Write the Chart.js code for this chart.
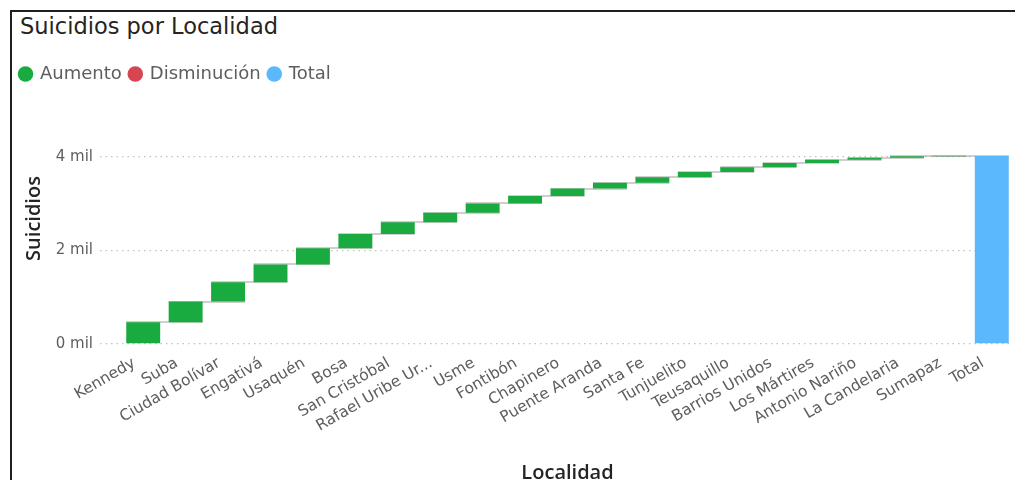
<!DOCTYPE html>
<html>
<head>
<meta charset="utf-8">
<script src="https://cdn.jsdelivr.net/npm/chart.js@4"></script>
<style>
  html, body { margin: 0; padding: 0; background: #fff; }
  #wrap { position: relative; width: 1015px; height: 480px; overflow: hidden; }
  #frame { position: absolute; left: 10px; top: 10px; width: 1010px; height: 480px;
           border-top: 2px solid #1e1e1e; border-left: 2px solid #1e1e1e; }
  #title { position: absolute; left: 20px; top: 13px; font-family: 'DejaVu Sans', sans-serif;
           font-size: 22.5px; color: #252423; white-space: nowrap; }
  canvas { position: absolute; left: 0; top: 0; }
</style>
</head>
<body>
<div id="wrap">
  <div id="frame"></div>
  <div id="title">Suicidios por Localidad</div>
  <canvas id="chart" width="1015" height="480"></canvas>
</div>
<script>
// Localidades, ordenadas como en el gráfico
var localidades = ['Kennedy', 'Suba', 'Ciudad Bolívar', 'Engativá', 'Usaquén', 'Bosa',
  'San Cristóbal', 'Rafael Uribe Uribe', 'Usme', 'Fontibón', 'Chapinero', 'Puente Aranda',
  'Santa Fe', 'Tunjuelito', 'Teusaquillo', 'Barrios Unidos', 'Los Mártires',
  'Antonio Nariño', 'La Candelaria', 'Sumapaz'];
// suicidios por localidad (aumento de cada escalón)
var suicidios = [463, 446, 412, 382, 346, 303, 255, 203, 198, 160, 158, 125,
  117, 112, 100, 90, 72, 45, 28, 6];
var totalLabel = 'Total';
var yTicks = [0, 2000, 4000];
var yTickLabels = ['0 mil', '2 mil', '4 mil'];

var clr_up = '#1AAB40';
var clr_down = '#D64550';
var clr_total = '#5BB8FD';
var clr_text = '#605E5C';
var font_fam = "'DejaVu Sans', sans-serif";
var font_title = "'Open Sans', sans-serif";

var labels = localidades.concat([totalLabel]);
var cum = [];
var run = 0;
var aumento = [];
for (let i = 0; i < suicidios.length; i++) {
  aumento.push([run, run + suicidios[i]]);
  run += suicidios[i];
  cum.push(run);
}
aumento.push(null);
var total = localidades.map(function() { return null; });
total.push([0, run]);
var disminucion = labels.map(function() { return null; });

// lineas de conexion entre escalones
var connectors = {
  id: 'connectors',
  beforeDatasetsDraw: function(chart) {
    var ctx = chart.ctx;
    var y = chart.scales.y;
    var bars = chart.getDatasetMeta(0).data;
    var tot = chart.getDatasetMeta(2).data;
    ctx.save();
    ctx.strokeStyle = '#A19F9D';
    ctx.lineWidth = 1;
    for (let i = 0; i < cum.length; i++) {
      var b = bars[i];
      var nb = (i + 1 < cum.length) ? bars[i + 1] : tot[cum.length];
      var py = Math.round(y.getPixelForValue(cum[i]));
      ctx.beginPath();
      ctx.moveTo(b.x - b.width / 2, py);
      ctx.lineTo(nb.x + nb.width / 2, py);
      ctx.stroke();
    }
    ctx.restore();
  }
};

var ctx = document.getElementById('chart').getContext('2d');
window.myChart = new Chart(ctx, {
  type: 'bar',
  data: {
    labels: labels,
    datasets: [
      { label: 'Aumento', data: aumento, backgroundColor: clr_up },
      { label: 'Disminución', data: disminucion, backgroundColor: clr_down },
      { label: 'Total', data: total, backgroundColor: clr_total }
    ]
  },
  options: {
    responsive: false,
    animation: false,
    layout: { padding: { left: 12, top: 57, right: 2, bottom: -5 } },
    datasets: {
      bar: { grouped: false, categoryPercentage: 1, barPercentage: 0.8, borderWidth: 0 }
    },
    scales: {
      x: {
        grid: { display: false },
        border: { display: false },
        ticks: {
          autoSkip: false,
          minRotation: 30,
          maxRotation: 30,
          color: clr_text,
          font: { family: font_fam, size: 15.5 },
          padding: 2,
          labelOffset: -9,
          callback: function(v) {
            var s = this.getLabelForValue(v);
            return s.length > 15 ? s.slice(0, 15) + '...' : s;
          }
        },
        title: {
          display: true,
          text: 'Localidad',
          color: '#252423',
          font: { family: font_title, size: 20, weight: '600' },
          padding: { top: 0, bottom: 0 }
        },
        afterFit: function(axis) { axis.height = 141; }
      },
      y: {
        min: 0,
        max: 5370,
        afterBuildTicks: function(axis) {
          axis.ticks = yTicks.map(function(v) { return { value: v }; });
        },
        grid: {
          color: '#C4C2C0',
          lineWidth: 1.3,
          tickBorderDash: [1.5, 4],
          tickColor: '#C4C2C0',
          tickLength: 22
        },
        border: { display: false, dash: [1.5, 4] },
        ticks: {
          color: clr_text,
          font: { family: font_fam, size: 15 },
          padding: 7,
          callback: function(v) { return yTickLabels[yTicks.indexOf(v)]; }
        },
        title: {
          display: true,
          text: 'Suicidios',
          color: '#252423',
          font: { family: font_title, size: 20, weight: '600' },
          padding: { top: 10, bottom: 0 }
        },
        afterFit: function(axis) { axis.width = 110; }
      }
    },
    plugins: {
      title: { display: false },
      tooltip: { enabled: false },
      legend: {
        display: true,
        position: 'top',
        align: 'start',
        labels: {
          usePointStyle: true,
          pointStyle: 'circle',
          boxWidth: 11,
          boxHeight: 11,
          padding: 8,
          color: clr_text,
          font: { family: font_fam, size: 18 }
        }
      }
    }
  },
  plugins: [connectors]
});
</script>
</body>
</html>
